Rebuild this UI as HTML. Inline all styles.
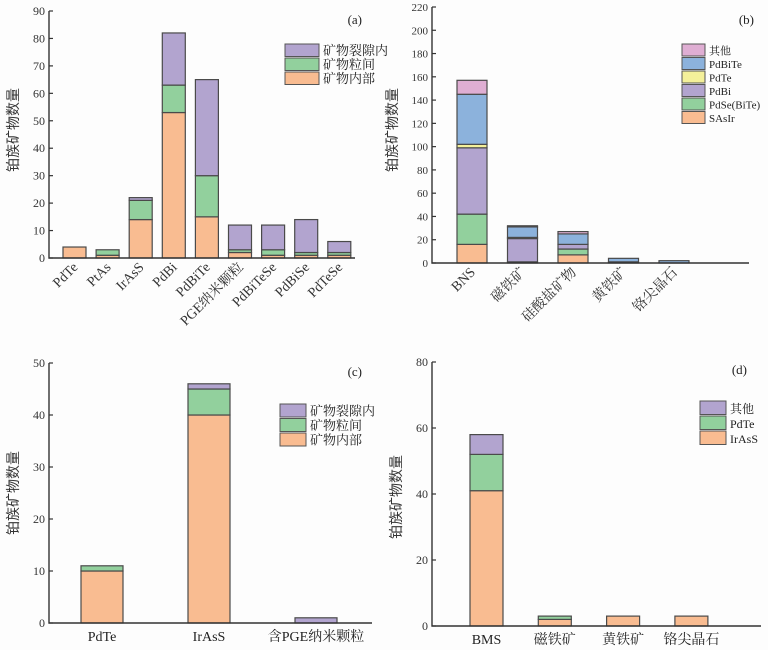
<!DOCTYPE html>
<html><head><meta charset="utf-8"><style>
html,body{margin:0;padding:0;background:#fdfdfd;}
svg{display:block;font-family:"Liberation Serif","Noto Serif CJK SC",serif;}
</style></head><body>
<svg id="c" width="768" height="650" viewBox="0 0 768 650"></svg>
<script>
// Panel (a)
const aCats=["PdTe","PtAs","IrAsS","PdBi","PdBiTe","PGE纳米颗粒","PdBiTeSe","PdBiSe","PdTeSe"];
const aInside=[4,1,14,53,15,2,1,1,1];
const aBetween=[0,2,7,10,15,1,2,1,1];
const aCrack=[0,0,1,19,35,9,9,12,4];
const aTicks=[0,10,20,30,40,50,60,70,80,90];
// Panel (b)
const bCats=["BNS","磁铁矿","硅酸盐矿物","黄铁矿","铬尖晶石"];
const bSAsIr=[16,0,7,1,0];
const bPdSe=[26,1,5,0,0];
const bPdBi=[57,20,4,0,0];
const bPdTe=[3,1,0,0,0];
const bPdBiTe=[43,9,9,3,2];
const bOther=[12,1,2,0,0];
const bTicks=[0,20,40,60,80,100,120,140,160,180,200,220];
// Panel (c)
const cCats=["PdTe","IrAsS","含PGE纳米颗粒"];
const cInside=[10,40,0];
const cBetween=[1,5,0];
const cCrack=[0,1,1];
const cTicks=[0,10,20,30,40,50];
// Panel (d)
const dCats=["BMS","磁铁矿","黄铁矿","铬尖晶石"];
const dIrAsS=[41,2,3,3];
const dPdTe=[11,1,0,0];
const dOther=[6,0,0,0];
const dTicks=[0,20,40,60,80];

const NS="http://www.w3.org/2000/svg";
const svg=document.getElementById('c');
const OR="#f9bc91",GR="#92d09d",PU="#b2a4cf",BL="#8cb2dc",YE="#f4f09a",PK="#dfaed3";
function el(tag,attrs,parent,text){const e=document.createElementNS(NS,tag);for(const k in attrs)e.setAttribute(k,attrs[k]);if(text!==undefined)e.textContent=text;(parent||svg).appendChild(e);return e;}

function panel(o){
  const g=el('g',{});
  
  
  const y=v=>o.y0-(v/o.max)*(o.y0-o.y1);
  o.cats.forEach((c,i)=>{
    const x=o.x0+i*o.step;
    let acc=0;
    o.series.forEach((s,j)=>{
      const v=s.vals[i];
      if(v<=0)return;
      const r=el('rect',{x:x,y:y(acc+v),width:o.bw,height:y(acc)-y(acc+v),fill:s.color,stroke:"#4a4a4a","stroke-width":1.2},g);
      
      
      acc+=v;
    });
    const cx=x+o.bw/2;
    if(o.rot){
      const t=el('text',{x:cx+4,y:o.y0+10,"text-anchor":"end","font-size":14,fill:"#333",transform:`rotate(-45 ${cx+4} ${o.y0+10})`},g,c);
      
      
    }else{
      const t=el('text',{x:cx,y:o.y0+18,"text-anchor":"middle","font-size":14,fill:"#222"},g,c);
      
      
    }
  });
  const ax=el('path',{d:`M${o.ax},${y(o.max)}V${o.y0}H${o.xEnd}`,fill:"none",stroke:"#333","stroke-width":1.4},g);
  
  
  o.ticks.forEach(t=>{
    el('line',{x1:o.ax,x2:o.ax+4,y1:y(t),y2:y(t),stroke:"#333","stroke-width":1.2},g);
    const tl=el('text',{x:o.ax-4,y:y(t)+4,"text-anchor":"end","font-size":o.tfs||12,fill:"#333"},g,t);
    
    
  });
  const yt=el('text',{x:o.ytx,y:o.yty,"text-anchor":"middle","font-size":14,fill:"#333",transform:`rotate(-90 ${o.ytx} ${o.yty})`,"font-family":'"Liberation Sans","Noto Sans CJK SC",sans-serif'},g,"铂族矿物数量");
  
  
  const pt=el('text',{x:o.tx,y:o.ty,"text-anchor":"end","font-size":13,fill:"#222"},g,o.tag);
  
  
  const ls=o.series.slice().reverse();
  ls.forEach((s,k)=>{
    const yy=o.ly+k*o.lstep;
    el('rect',{x:o.lx,y:yy,width:o.lw,height:o.lstep-1.5,fill:s.color,stroke:"#555","stroke-width":1},g);
    const lt=el('text',{x:o.lx+o.lw+4,y:yy+o.lstep-3,"font-size":o.lfs,fill:"#222"},g,s.label);
    
    
  });
}

panel({name:'panel-a',cats:aCats,series:[{key:'inside',label:'矿物内部',vals:aInside,color:OR},{key:'between',label:'矿物粒间',vals:aBetween,color:GR},{key:'crack',label:'矿物裂隙内',vals:aCrack,color:PU}],
  ticks:aTicks,max:90,y0:258,y1:11,ax:49,xEnd:355,x0:63,step:33.1,bw:23,rot:true,ytx:18,yty:130,tx:362,ty:24,tag:'(a)',lx:285,ly:44,lstep:14,lw:34,lfs:13});
panel({name:'panel-b',cats:bCats,series:[{key:'sasir',label:'SAsIr',vals:bSAsIr,color:OR},{key:'pdse',label:'PdSe(BiTe)',vals:bPdSe,color:GR},{key:'pdbi',label:'PdBi',vals:bPdBi,color:PU},{key:'pdte',label:'PdTe',vals:bPdTe,color:YE},{key:'pdbite',label:'PdBiTe',vals:bPdBiTe,color:BL},{key:'other',label:'其他',vals:bOther,color:PK}],
  ticks:bTicks,max:220,y0:263,y1:7,ax:432,xEnd:749,x0:457,step:50.5,bw:30,rot:true,ytx:397,yty:130,tfs:11,tx:754,ty:24,tag:'(b)',lx:682,ly:44,lstep:13.5,lw:23,lfs:11});
panel({name:'panel-c',cats:cCats,series:[{key:'inside',label:'矿物内部',vals:cInside,color:OR},{key:'between',label:'矿物粒间',vals:cBetween,color:GR},{key:'crack',label:'矿物裂隙内',vals:cCrack,color:PU}],
  ticks:cTicks,max:50,y0:623,y1:363,ax:49,xEnd:372,x0:81,step:107,bw:42,rot:false,ytx:18,yty:493,tx:362,ty:376,tag:'(c)',lx:280,ly:404,lstep:14.5,lw:26,lfs:13});
panel({name:'panel-d',cats:dCats,series:[{key:'irass',label:'IrAsS',vals:dIrAsS,color:OR},{key:'pdte',label:'PdTe',vals:dPdTe,color:GR},{key:'other',label:'其他',vals:dOther,color:PU}],
  ticks:dTicks,max:80,y0:626,y1:362,ax:432,xEnd:761,x0:470,step:68.3,bw:33,rot:false,ytx:401,yty:497,tx:747,ty:374,tag:'(d)',lx:700,ly:401,lstep:15,lw:26,lfs:12});
</script>
</body></html>
